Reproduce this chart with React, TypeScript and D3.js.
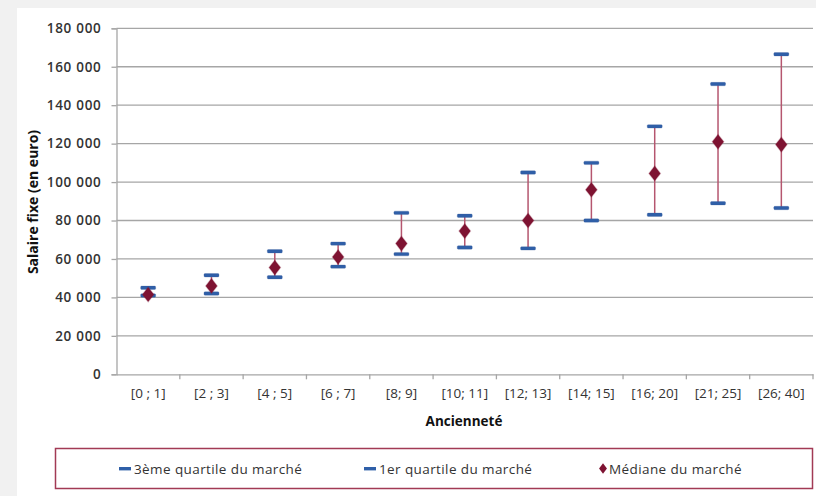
import React, { useRef, useEffect } from "react";
import * as d3 from "d3";

// anciennete buckets
const categories = ["[0 ; 1]", "[2 ; 3]", "[4 ; 5]", "[6 ; 7]", "[8; 9]", "[10; 11]", "[12; 13]", "[14; 15]", "[16; 20]", "[21; 25]", "[26; 40]"];
const q3 = [45000, 51500, 64000, 68000, 84000, 82500, 105000, 110000, 129000, 151000, 166500];
const q1 = [41000, 42000, 50500, 56000, 62500, 66000, 65500, 80000, 83000, 89000, 86500];
const mediane = [41500, 46000, 55500, 61000, 68000, 74500, 80000, 96000, 104500, 121000, 119500];
const yTicks = [0, 20000, 40000, 60000, 80000, 100000, 120000, 140000, 160000, 180000];

const W = 816;
const H = 496;
const FONT = "'Open Sans', 'DejaVu Sans', sans-serif";

const App = () => {
  const svgRef = useRef(null);

  useEffect(() => {
    if (!svgRef.current) return;
    const svg = d3.select(svgRef.current);
    svg.selectAll("*").remove();

    const margin = { top: 28.3, right: 3, bottom: 121.7, left: 116.5 };

    // background + white panel
    svg.append("rect").attr("width", W).attr("height", H).attr("fill", "#f1f1f1");
    svg.append("rect").attr("x", 17).attr("y", 8).attr("width", W - 17).attr("height", H - 8).attr("fill", "#fff");

    const x = d3.scaleBand().domain(categories).range([margin.left, W - margin.right]);
    const y = d3.scaleLinear().domain([0, 180000]).range([H - margin.bottom, margin.top]);

    const fmt = (v: number) => d3.format(",")(v).replace(/,/g, " ");

    // gridlines
    svg.append("g")
      .selectAll("line")
      .data(yTicks.slice(1))
      .enter()
      .append("line")
      .attr("x1", margin.left)
      .attr("x2", W - margin.right)
      .attr("y1", (d) => y(d))
      .attr("y2", (d) => y(d))
      .attr("stroke", "#a6a6a6")
      .attr("stroke-width", 1.3);

    // y axis
    const yAxis = svg.append("g")
      .attr("transform", `translate(${margin.left},0)`)
      .call(d3.axisLeft(y).tickValues(yTicks).tickSize(5).tickPadding(10).tickFormat((d: any) => fmt(d)));
    yAxis.select(".domain").attr("stroke", "#a6a6a6").attr("stroke-width", 1.3);
    yAxis.selectAll(".tick line").attr("stroke", "#a6a6a6").attr("stroke-width", 1.3);
    yAxis.selectAll("text")
      .attr("font-family", FONT)
      .attr("font-size", 13.5)
      .attr("font-weight", 600)
      .attr("letter-spacing", 0.7)
      .attr("fill", "#333");

    // x axis
    const xAxis = svg.append("g")
      .attr("transform", `translate(0,${y(0)})`)
      .call(d3.axisBottom(x).tickSize(0).tickPadding(14));
    xAxis.select(".domain").attr("stroke", "#a6a6a6").attr("stroke-width", 1.3);
    xAxis.selectAll("text")
      .attr("font-family", FONT)
      .attr("font-size", 13.5)
      .attr("fill", "#333");
    // tick marks at band boundaries
    svg.append("g")
      .selectAll("line")
      .data(categories)
      .enter()
      .append("line")
      .attr("x1", (d) => (x(d) as number) + x.bandwidth())
      .attr("x2", (d) => (x(d) as number) + x.bandwidth())
      .attr("y1", y(0))
      .attr("y2", y(0) + 5)
      .attr("stroke", "#a6a6a6")
      .attr("stroke-width", 1.3);

    // titles
    svg.append("text")
      .attr("transform", `translate(38,202) rotate(-90)`)
      .attr("text-anchor", "middle")
      .attr("font-family", FONT)
      .attr("font-size", 14)
      .attr("font-weight", 700)
      .attr("fill", "#111")
      .text("Salaire fixe (en euro)");

    svg.append("text")
      .attr("x", 464)
      .attr("y", 426)
      .attr("text-anchor", "middle")
      .attr("font-family", FONT)
      .attr("font-size", 13.5)
      .attr("font-weight", 700)
      .attr("fill", "#111")
      .text("Ancienneté");

    const cx = (i: number) => (x(categories[i]) as number) + x.bandwidth() / 2;

    // error bars
    const marks = svg.append("g");
    categories.forEach((c, i) => {
      marks.append("line")
        .attr("x1", cx(i)).attr("x2", cx(i))
        .attr("y1", y(q1[i])).attr("y2", y(q3[i]))
        .attr("stroke", "#b5566f")
        .attr("stroke-width", 1.5);
    });

    const cap = (vals: number[]) =>
      marks.selectAll(null)
        .data(vals)
        .enter()
        .append("rect")
        .attr("x", (d, i) => cx(i) - 7.5)
        .attr("y", (d) => y(d) - 1.7)
        .attr("width", 15)
        .attr("height", 3.4)
        .attr("rx", 1)
        .attr("fill", "#2f5fa8")
        .attr("stroke", "rgba(60,90,150,0.25)")
        .attr("stroke-width", 1);
    cap(q3);
    cap(q1);

    const diamond = d3.symbol().type(d3.symbolDiamond).size(62);
    marks.selectAll(null)
      .data(mediane)
      .enter()
      .append("path")
      .attr("d", diamond as any)
      .attr("transform", (d, i) => `translate(${cx(i)},${y(d)}) scale(1.35,1)`)
      .attr("fill", "#7e1332")
      .attr("stroke", "rgba(126,19,50,0.3)")
      .attr("stroke-width", 1);

    // legend
    const leg = svg.append("g");
    leg.append("rect")
      .attr("x", 55.5).attr("y", 448.5)
      .attr("width", 757).attr("height", 40)
      .attr("fill", "#fff")
      .attr("stroke", "#a23a55")
      .attr("stroke-width", 1.5);

    const legendItems = [
      { label: "3ème quartile du marché", x: 119, kind: "cap" },
      { label: "1er quartile du marché", x: 364, kind: "cap" },
      { label: "Médiane du marché", x: 598, kind: "diamond" },
    ];
    legendItems.forEach((it) => {
      if (it.kind === "cap") {
        leg.append("rect")
          .attr("x", it.x).attr("y", 467)
          .attr("width", 12).attr("height", 3.4)
          .attr("fill", "#2f5fa8");
      } else {
        leg.append("path")
          .attr("d", d3.symbol().type(d3.symbolDiamond).size(32)() as string)
          .attr("transform", `translate(${it.x + 5},468.5) scale(1.3,1)`)
          .attr("fill", "#7e1332");
      }
      leg.append("text")
        .attr("x", it.kind === "cap" ? it.x + 15 : it.x + 11)
        .attr("y", 473.5)
        .attr("font-family", FONT)
        .attr("font-size", 13.5)
        .attr("letter-spacing", 0.4)
        .attr("fill", "#333")
        .text(it.label);
    });
  }, []);

  return (
    <svg ref={svgRef} width={W} height={H} style={{ position: "fixed", left: 0, top: 0, display: "block" }} />
  );
};

export default App;
